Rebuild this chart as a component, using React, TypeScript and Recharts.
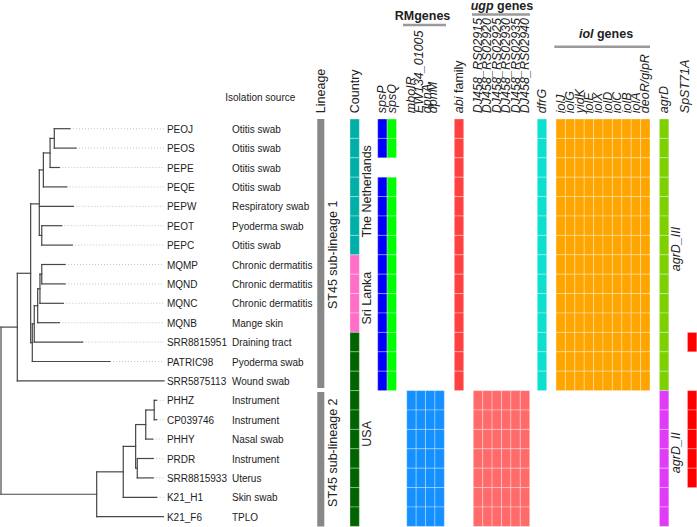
import { ReferenceArea, ReferenceLine, Scatter, ScatterChart, XAxis, YAxis } from "recharts"

const FONT = "'Liberation Sans', Arial, Helvetica, sans-serif"

// ---- data (rows top to bottom, same order as the tree tips) ----
const tips = [
    "PEOJ", "PEOS", "PEPE", "PEQE", "PEPW", "PEOT", "PEPC", "MQMP", "MQND", "MQNC", "MQNB",
    "SRR8815951", "PATRIC98", "SRR5875113", "PHHZ", "CP039746", "PHHY", "PRDR", "SRR8815933", "K21_H1", "K21_F6",
]
const isolationSources = [
    "Otitis swab", "Otitis swab", "Otitis swab", "Otitis swab", "Respiratory swab", "Pyoderma swab", "Otitis swab",
    "Chronic dermatitis", "Chronic dermatitis", "Chronic dermatitis", "Mange skin", "Draining tract", "Pyoderma swab",
    "Wound swab", "Instrument", "Instrument", "Nasal swab", "Instrument", "Uterus", "Skin swab", "TPLO",
]
const countries = [
    "The Netherlands", "The Netherlands", "The Netherlands", "The Netherlands", "The Netherlands", "The Netherlands", "The Netherlands",
    "Sri Lanka", "Sri Lanka", "Sri Lanka", "Sri Lanka",
    "USA", "USA", "USA", "USA", "USA", "USA", "USA", "USA", "USA", "USA",
]
const lineages = [1, 1, 1, 1, 1, 1, 1, 1, 1, 1, 1, 1, 1, 1, 2, 2, 2, 2, 2, 2, 2]
const spsP = [1, 1, 0, 1, 1, 1, 1, 1, 1, 1, 1, 1, 1, 1, 0, 0, 0, 0, 0, 0, 0]
const spsQ = [1, 1, 0, 1, 1, 1, 1, 1, 1, 1, 1, 1, 1, 1, 0, 0, 0, 0, 0, 0, 0]
const rmGenes = ["mboIR", "EW134_01005", "dpnA", "dpnM"]
const rmPresent = [0, 0, 0, 0, 0, 0, 0, 0, 0, 0, 0, 0, 0, 0, 1, 1, 1, 1, 1, 1, 1]
const abiFamily = [1, 1, 1, 1, 1, 1, 1, 1, 1, 1, 1, 1, 1, 1, 0, 0, 0, 0, 0, 0, 0]
const ugpGenes = ["DJ458_RS02915", "DJ458_RS02920", "DJ458_RS02925", "DJ458_RS02930", "DJ458_RS02935", "DJ458_RS02940"]
const ugpPresent = [0, 0, 0, 0, 0, 0, 0, 0, 0, 0, 0, 0, 0, 0, 1, 1, 1, 1, 1, 1, 1]
const dfrG = [1, 1, 1, 1, 1, 1, 1, 1, 1, 1, 1, 1, 1, 1, 0, 0, 0, 0, 0, 0, 0]
const iolGenes = ["iolJ", "iolG", "yidK", "iolE", "iolX", "iolD", "iolC", "iolB", "iolA", "deoR/glpR"]
const iolPresent = [1, 1, 1, 1, 1, 1, 1, 1, 1, 1, 1, 1, 1, 1, 0, 0, 0, 0, 0, 0, 0]
const agrDType = [
    "agrD_III", "agrD_III", "agrD_III", "agrD_III", "agrD_III", "agrD_III", "agrD_III",
    "agrD_III", "agrD_III", "agrD_III", "agrD_III", "agrD_III", "agrD_III", "agrD_III",
    "agrD_II", "agrD_II", "agrD_II", "agrD_II", "agrD_II", "agrD_II", "agrD_II",
]
const spST71A = [0, 0, 0, 0, 0, 0, 0, 0, 0, 0, 0, 1, 0, 0, 1, 1, 1, 1, 1, 0, 0]

// tree: node depths (longest tip = 100)
type TreeNode = { depth: number; name?: string; children?: TreeNode[] }
const tip = (name: string, depth: number): TreeNode => ({ name, depth })
const node = (depth: number, children: TreeNode[]): TreeNode => ({ depth, children })

const tree = node(0, [
    node(10, [
        node(18.2, [
            node(23.5, [
                node(26, [node(30.1, [node(32.7, [tip("PEOJ", 42.3), tip("PEOS", 46)]), tip("PEPE", 35.8)]), tip("PEQE", 40.3)]),
                tip("PEPW", 44.4),
                node(25, [tip("PEOT", 37.2), tip("PEPC", 43.7)]),
            ]),
            node(19.2, [
                node(20.4, [
                    node(22.5, [node(23.9, [node(25, [tip("MQMP", 39.3), tip("MQND", 39.3)]), tip("MQNC", 38.2)]), tip("MQNB", 35.8)]),
                    tip("SRR8815951", 50.1),
                ]),
                tip("PATRIC98", 66.9),
            ]),
        ]),
        tip("SRR5875113", 100),
    ]),
    node(58.7, [
        node(75, [
            node(82.6, [
                node(88.8, [node(94, [tip("PHHZ", 95.5), tip("CP039746", 95.5)]), tip("PHHY", 93.1)]),
                node(83.6, [tip("PRDR", 93.4), tip("SRR8815933", 93.4)]),
            ]),
            tip("K21_H1", 95.5),
        ]),
        tip("K21_F6", 99.6),
    ]),
])

const countryColors: Record<string, string> = { "The Netherlands": "#00B0A8", "Sri Lanka": "#FF6EC7", USA: "#006400" }
const agrDColors: Record<string, string> = { agrD_III: "#7ED000", agrD_II: "#E03CF8" }

// ---- layout ----
const W = 697
const H = 527
const ROW_PX = 19.4
const ROW0_PX = 119
const CELL_PX = 9.4
const HEAT0_PX = 377.7
const TREE_PX = 1.63
const TREE0_PX = 1
const MAX_DEPTH = 100

const rowDomain = [-ROW0_PX / ROW_PX, (H - ROW0_PX) / ROW_PX]
const heatDomain = [-HEAT0_PX / CELL_PX, (W - HEAT0_PX) / CELL_PX]
const treeDomain = [-TREE0_PX / TREE_PX, (W - TREE0_PX) / TREE_PX]

// column left edges in cell units
const COL = {
    lineage: -6.43,
    country: -2.95,
    spsP: 0,
    spsQ: 1,
    rm: 3.09,
    abi: 8.15,
    ugp: 10.17,
    dfrG: 16.98,
    iol: 18.97,
    agrD: 29.97,
    spST: 32.95,
}
const rmLabelX = [3.5, 4.4, 5.2, 5.9]
const HEADER_Y = -0.3

type Seg = { x1: number; y1: number; x2: number; y2: number }

function layoutTree(root: TreeNode) {
    const branches: Seg[] = []
    const leaders: Seg[] = []
    const walk = (n: TreeNode): number => {
        if (!n.children) {
            const y = tips.indexOf(n.name as string) + 0.5
            if (n.depth < MAX_DEPTH) leaders.push({ x1: n.depth, y1: y, x2: MAX_DEPTH, y2: y })
            return y
        }
        const ys = n.children.map((c) => {
            const y = walk(c)
            branches.push({ x1: n.depth, y1: y, x2: c.depth, y2: y })
            return y
        })
        branches.push({ x1: n.depth, y1: Math.min(...ys), x2: n.depth, y2: Math.max(...ys) })
        return ys.reduce((a, b) => a + b, 0) / ys.length
    }
    walk(root)
    return { branches, leaders }
}

type Cell = { x: number; row: number; fill: string }

function buildCells(): Cell[] {
    const cells: Cell[] = []
    const add = (x: number, present: number[], fill: string) =>
        present.forEach((v, row) => {
            if (v) cells.push({ x, row, fill })
        })
    countries.forEach((c, row) => cells.push({ x: COL.country, row, fill: countryColors[c] }))
    add(COL.spsP, spsP, "#0000FF")
    add(COL.spsQ, spsQ, "#00FF00")
    rmGenes.forEach((_, k) => add(COL.rm + k, rmPresent, "#1490FF"))
    add(COL.abi, abiFamily, "#FF4040")
    ugpGenes.forEach((_, k) => add(COL.ugp + k, ugpPresent, "#FF6B6B"))
    add(COL.dfrG, dfrG, "#0ADFD0")
    iolGenes.forEach((_, k) => add(COL.iol + k, iolPresent, "#FFA500"))
    agrDType.forEach((t, row) => cells.push({ x: COL.agrD, row, fill: agrDColors[t] }))
    add(COL.spST, spST71A, "#FF0000")
    return cells
}

function runs(values: (string | number)[]) {
    const out: { value: string | number; start: number; end: number }[] = []
    values.forEach((v, i) => {
        const last = out[out.length - 1]
        if (last && last.value === v) last.end = i + 1
        else out.push({ value: v, start: i, end: i + 1 })
    })
    return out
}

type Part = { t: string; i?: boolean }
type TextDatum = {
    x: number
    y: number
    parts: Part[]
    size?: number
    weight?: string
    anchor?: "start" | "middle" | "end"
    rotate?: boolean
    baseline?: "central" | "alphabetic"
}

function renderText(props: any) {
    const { cx, cy, payload } = props
    const d = payload as TextDatum
    return (
        <text
            x={cx}
            y={cy}
            transform={d.rotate ? `rotate(-90 ${cx} ${cy})` : undefined}
            textAnchor={d.anchor ?? "start"}
            dominantBaseline={d.baseline ?? "central"}
            fontFamily={FONT}
            fontSize={d.size ?? 10}
            fontWeight={d.weight}
            fill="#222"
        >
            {d.parts.map((p, k) => (
                <tspan key={k} fontStyle={p.i ? "italic" : undefined}>
                    {p.t}
                </tspan>
            ))}
        </text>
    )
}

const it = (t: string): Part[] => [{ t, i: true }]

export default function App() {
    const { branches, leaders } = layoutTree(tree)
    const cells = buildCells()

    const treeTexts: TextDatum[] = [
        ...tips.map((t, i) => ({ x: MAX_DEPTH + 1.8, y: i + 0.5, parts: [{ t }] })),
        ...isolationSources.map((s, i) => ({ x: 141.7, y: i + 0.5, parts: [{ t: s }] })),
        { x: 137.6, y: -0.93, parts: [{ t: "Isolation source" }], baseline: "alphabetic" },
    ]

    const col = (x: number, parts: Part[]): TextDatum => ({
        x,
        y: HEADER_Y,
        parts,
        size: 12.5,
        rotate: true,
    })
    const headerTexts: TextDatum[] = [
        col(COL.lineage + 0.37, [{ t: "Lineage" }]),
        col(COL.country + 0.5, [{ t: "Country" }]),
        col(COL.spsP + 0.5, it("spsP")),
        col(COL.spsQ + 0.5, it("spsQ")),
        ...rmGenes.map((g, k) => col(rmLabelX[k], it(g))),
        col(COL.abi + 0.5, [{ t: "abi", i: true }, { t: " family" }]),
        ...ugpGenes.map((g, k) => col(COL.ugp + k + 0.5, it(g))),
        col(COL.dfrG + 0.5, it("dfrG")),
        ...iolGenes.map((g, k) => col(COL.iol + k + 0.5, it(g))),
        col(COL.agrD + 0.5, it("agrD")),
        col(COL.spST - 0.3, it("SpST71A")),
        { x: 4.77, y: -5.1, parts: [{ t: "RMgenes" }], size: 12.5, weight: "bold", anchor: "middle", baseline: "alphabetic" },
        { x: 13.22, y: -5.64, parts: [{ t: "ugp", i: true }, { t: " genes" }], size: 12.5, weight: "bold", anchor: "middle", baseline: "alphabetic" },
        { x: 24.29, y: -4.15, parts: [{ t: "iol", i: true }, { t: " genes" }], size: 12.5, weight: "bold", anchor: "middle", baseline: "alphabetic" },
    ]

    const groupTexts: TextDatum[] = [
        ...runs(lineages).map((r) => ({
            x: -4.8,
            y: (r.start + r.end) / 2 - (r.value === 2 ? 0.3 : 0),
            parts: [{ t: `ST45 sub-lineage ${r.value}` }],
            size: 12.5,
            rotate: true,
            anchor: "middle" as const,
        })),
        ...runs(countries).map((r) => ({
            x: -1.14,
            y: (r.start + r.end) / 2 + 0.23,
            parts: [{ t: String(r.value) }],
            size: 12.5,
            rotate: true,
            anchor: "middle" as const,
        })),
        ...runs(agrDType).map((r) => ({
            x: 31.7,
            y: (r.start + r.end) / 2 - 0.3,
            parts: it(String(r.value)),
            size: 12.5,
            rotate: true,
            anchor: "middle" as const,
        })),
    ]

    const headerLines = [
        { x1: 2.69, x2: 7.27, y: -4.845 },
        { x1: 10.03, x2: 16.2, y: -5.39 },
        { x1: 18.79, x2: 28.97, y: -3.727 },
    ]

    return (
        <div style={{ position: "absolute", left: 0, top: 0, width: W, height: H, background: "#fff" }}>
            <ScatterChart width={W} height={H} margin={{ top: 0, right: 0, bottom: 0, left: 0 }}>
                <XAxis xAxisId="tree" type="number" dataKey="x" domain={treeDomain} allowDataOverflow hide />
                <XAxis xAxisId="heat" type="number" dataKey="x" domain={heatDomain} allowDataOverflow hide />
                <YAxis yAxisId="row" type="number" dataKey="y" domain={rowDomain} allowDataOverflow reversed hide />

                {leaders.map((s, i) => (
                    <ReferenceLine
                        key={`d${i}`}
                        xAxisId="tree"
                        yAxisId="row"
                        segment={[{ x: s.x1, y: s.y1 }, { x: s.x2, y: s.y2 }]}
                        stroke="#b5b5b5"
                        strokeWidth={0.8}
                        strokeDasharray="1 2"
                    />
                ))}
                {branches.map((s, i) => (
                    <ReferenceLine
                        key={`b${i}`}
                        xAxisId="tree"
                        yAxisId="row"
                        segment={[{ x: s.x1, y: s.y1 }, { x: s.x2, y: s.y2 }]}
                        stroke="#474747"
                        strokeWidth={1.2}
                        strokeLinecap="square"
                    />
                ))}

                {runs(lineages).map((r) => (
                    <ReferenceArea
                        key={`l${r.value}`}
                        xAxisId="heat"
                        yAxisId="row"
                        x1={COL.lineage}
                        x2={COL.lineage + 0.75}
                        y1={r.start + (r.start > 0 ? 0.07 : 0)}
                        y2={r.end - (r.end < lineages.length ? 0.14 : 0)}
                        fill="#888888"
                        fillOpacity={1}
                        stroke="none"
                    />
                ))}
                {cells.map((c, i) => (
                    <ReferenceArea
                        key={`c${i}`}
                        xAxisId="heat"
                        yAxisId="row"
                        x1={c.x}
                        x2={c.x + 1}
                        y1={c.row}
                        y2={c.row + 1}
                        fill={c.fill}
                        fillOpacity={1}
                        stroke="rgba(255,255,255,0.4)"
                        strokeWidth={0.8}
                    />
                ))}
                {headerLines.map((l, i) => (
                    <ReferenceLine
                        key={`h${i}`}
                        xAxisId="heat"
                        yAxisId="row"
                        segment={[{ x: l.x1, y: l.y }, { x: l.x2, y: l.y }]}
                        stroke="#9a9a9a"
                        strokeWidth={2.6}
                    />
                ))}

                <Scatter xAxisId="tree" yAxisId="row" data={treeTexts} shape={renderText} isAnimationActive={false} />
                <Scatter xAxisId="heat" yAxisId="row" data={headerTexts} shape={renderText} isAnimationActive={false} />
                <Scatter xAxisId="heat" yAxisId="row" data={groupTexts} shape={renderText} isAnimationActive={false} />
            </ScatterChart>
        </div>
    )
}
